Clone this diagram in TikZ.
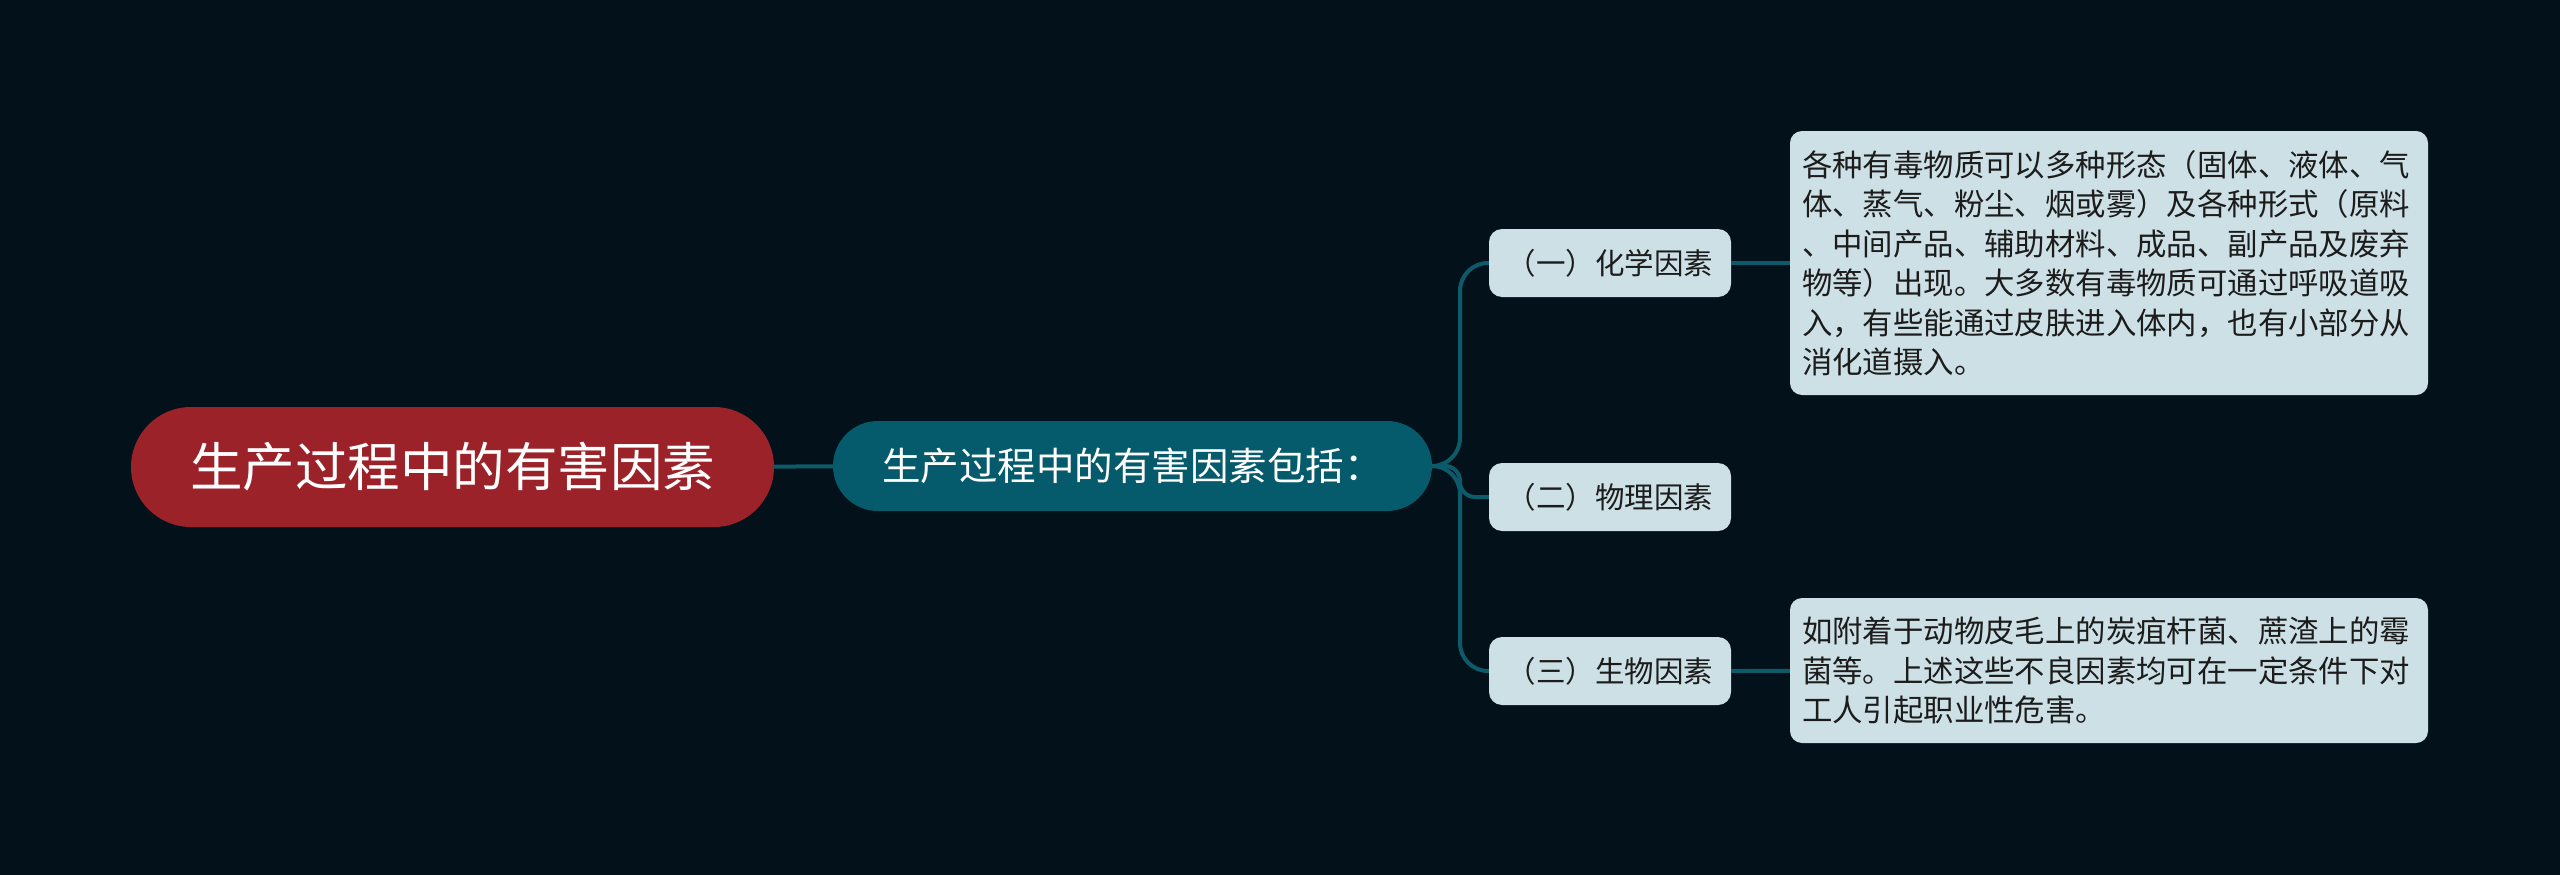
\documentclass[tikz,border=0pt]{standalone}
\usepackage{fontspec}
\newfontfamily\cjk{Noto Sans CJK SC}
\usepackage{xcolor}
\definecolor{bgdark}{HTML}{03121A}
\definecolor{rootred}{HTML}{9C2229}
\definecolor{mainteal}{HTML}{055B6C}
\definecolor{linkteal}{HTML}{0D5A6B}
\definecolor{paleblue}{HTML}{CDE0E5}
\definecolor{inkdark}{HTML}{1C1C1C}
\tikzset{
  roottopic/.style={rounded corners=60pt, fill=rootred, text=white, minimum width=643pt, minimum height=120pt, inner sep=0pt, font=\cjk\fontsize{52.5}{60}\selectfont},
  maintopic/.style={rounded corners=45pt, fill=mainteal, text=white, minimum width=599pt, minimum height=90pt, inner sep=0pt, font=\cjk\fontsize{38.5}{44}\selectfont},
  subtopic/.style={rounded corners=13pt, fill=paleblue, text=inkdark, minimum width=242pt, minimum height=68pt, inner sep=0pt, font=\cjk\fontsize{29.5}{35}\selectfont},
  leaftopic/.style={rounded corners=12pt, fill=paleblue, text=inkdark, minimum width=638pt, inner sep=0pt, text width=614pt, align=left, font=\cjk\fontsize{30.4}{39.5}\selectfont},
  link/.style={draw=linkteal, line width=4pt}
}
\begin{document}
\begin{tikzpicture}[x=1pt, y=-1pt]
\fill[bgdark] (0,0) rectangle (2560,875);
\useasboundingbox (0,0) rectangle (2560,875);
% topics
\node[roottopic] (root) at (452.5,467) {生产过程中的有害因素};
\node[maintopic] (main) at (1132.5,466) {生产过程中的有害因素包括：};
\node[subtopic] (chem) at (1610,263) {（一）化学因素};
\node[subtopic] (phys) at (1610,497) {（二）物理因素};
\node[subtopic] (bio) at (1610,671) {（三）生物因素};
% details
\node[leaftopic, minimum height=264pt] (chemtext) at (2109,263) {各种有毒物质可以多种形态（固体、液体、气\\体、蒸气、粉尘、烟或雾）及各种形式（原料\\、中间产品、辅助材料、成品、副产品及废弃\\物等）出现。大多数有毒物质可通过呼吸道吸\\入，有些能通过皮肤进入体内，也有小部分从\\消化道摄入。};
\node[leaftopic, minimum height=145pt] (biotext) at (2109,670.5) {如附着于动物皮毛上的炭疽杆菌、蔗渣上的霉\\菌等。上述这些不良因素均可在一定条件下对\\工人引起职业性危害。};
\coordinate (fork) at (1460,466);
% connectors
\draw[link] (root) -- (main);
\draw[link, rounded corners=28pt] (main.east) -- (fork) |- (chem.west);
\draw[link, rounded corners=15pt] (main.east) -- (fork) |- (phys.west);
\draw[link, rounded corners=28pt] (main.east) -- (fork) |- (bio.west);
\draw[link] (chem) -- (chemtext);
\draw[link] (bio) -- (biotext);
\end{tikzpicture}
\end{document}
